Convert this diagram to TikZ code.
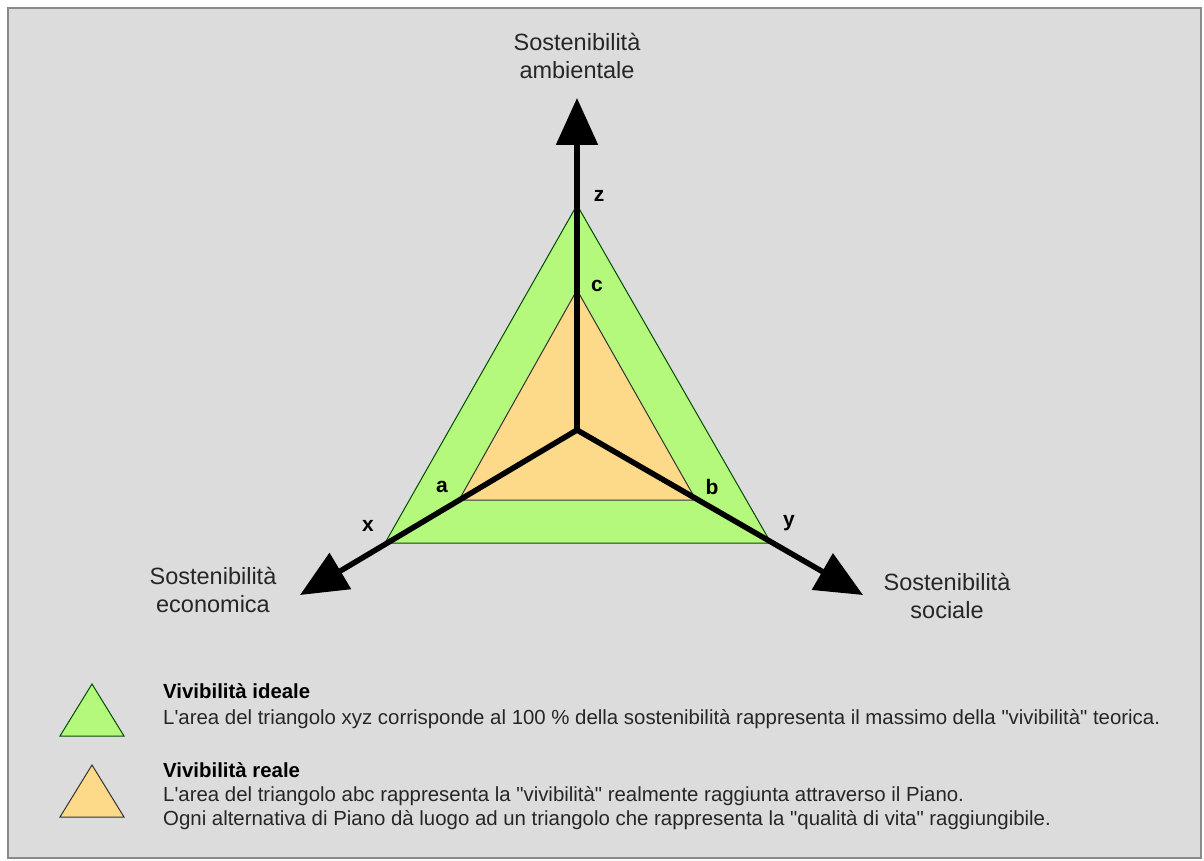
\documentclass[tikz,border=0pt]{standalone}
\usepackage{fontspec}
\setmainfont{Liberation Sans}[Ligatures=TeXOff]
\usetikzlibrary{arrows.meta}
\definecolor{bg}{HTML}{DCDCDC}
\definecolor{ideal}{HTML}{B4F87C}
\definecolor{reale}{HTML}{FDD98A}
\definecolor{frame}{HTML}{8A8A8A}
\begin{document}
\begin{tikzpicture}[x=1pt,y=-1pt,
  axis/.style={line width=5.5pt,-{Triangle[length=47pt,width=41pt]}},
  idealtri/.style={fill=ideal,draw=black!70!green,line width=1pt},
  realetri/.style={fill=reale,draw=black!80,line width=1pt},
  vlabel/.style={font=\bfseries\fontsize{21}{24}\selectfont},
  axlabel/.style={align=center,font=\fontsize{23.5}{28}\selectfont,text=black!85},
  legtext/.style={anchor=base west,inner sep=0pt,font=\fontsize{20.4}{24}\selectfont,text=black!85},
  leghead/.style={anchor=base west,inner sep=0pt,font=\bfseries\fontsize{20.4}{24}\selectfont}]
\useasboundingbox (0,0) rectangle (1204,861);
\fill[white] (0,0) rectangle (1204,861);
\draw[fill=bg,draw=frame,line width=1.5pt] (8,8) rectangle (1201,858);
% points
\coordinate (O) at (577,430);
\coordinate (z) at (577,205);
\coordinate (c) at (577,290);
\coordinate (x) at (385,543);
\coordinate (y) at (771,543);
\coordinate (a) at (459,500);
\coordinate (b) at (696,500);
\coordinate (tz) at (577,98);
\coordinate (tx) at (300,595);
\coordinate (ty) at (863,595);
% triangles
\draw[idealtri] (x) -- (y) -- (z) -- cycle;
\draw[realetri] (a) -- (b) -- (c) -- cycle;
% axes
\draw[axis] (O) -- (tz);
\draw[axis] (O) -- (tx);
\draw[axis] (O) -- (ty);
\fill (O) circle (2.75pt);
% vertex labels
\node[vlabel] (lz) at (599,196) {z};
\node[vlabel] (lc) at (597,286) {c};
\node[vlabel] (la) at (442,487) {a};
\node[vlabel] (lb) at (712,487) {b};
\node[vlabel] (lx) at (368,526) {x};
\node[vlabel] (ly) at (789,523) {y};
% axis labels
\node[axlabel] (amb) at (577,56) {Sostenibilità\\ambientale};
\node[axlabel] (eco) at (213,590) {Sostenibilità\\economica};
\node[axlabel] (soc) at (947,596) {Sostenibilità\\sociale};
% legend
\draw[idealtri] (60,736) -- (124,736) -- (92,684) -- cycle;
\draw[realetri] (60,817) -- (124,817) -- (92,765) -- cycle;
\node[leghead] (h1) at (163,698) {Vivibilità ideale};
\node[legtext] (t1) at (163,724) {L'area del triangolo xyz corrisponde al 100 \% della sostenibilità rappresenta il massimo della "vivibilità" teorica.};
\node[leghead] (h2) at (163,777) {Vivibilità reale};
\node[legtext] (t2) at (163,801) {L'area del triangolo abc rappresenta la "vivibilità" realmente raggiunta attraverso il Piano.};
\node[legtext] (t3) at (163,825) {Ogni alternativa di Piano dà luogo ad un triangolo che rappresenta la "qualità di vita" raggiungibile.};
\end{tikzpicture}
\end{document}
